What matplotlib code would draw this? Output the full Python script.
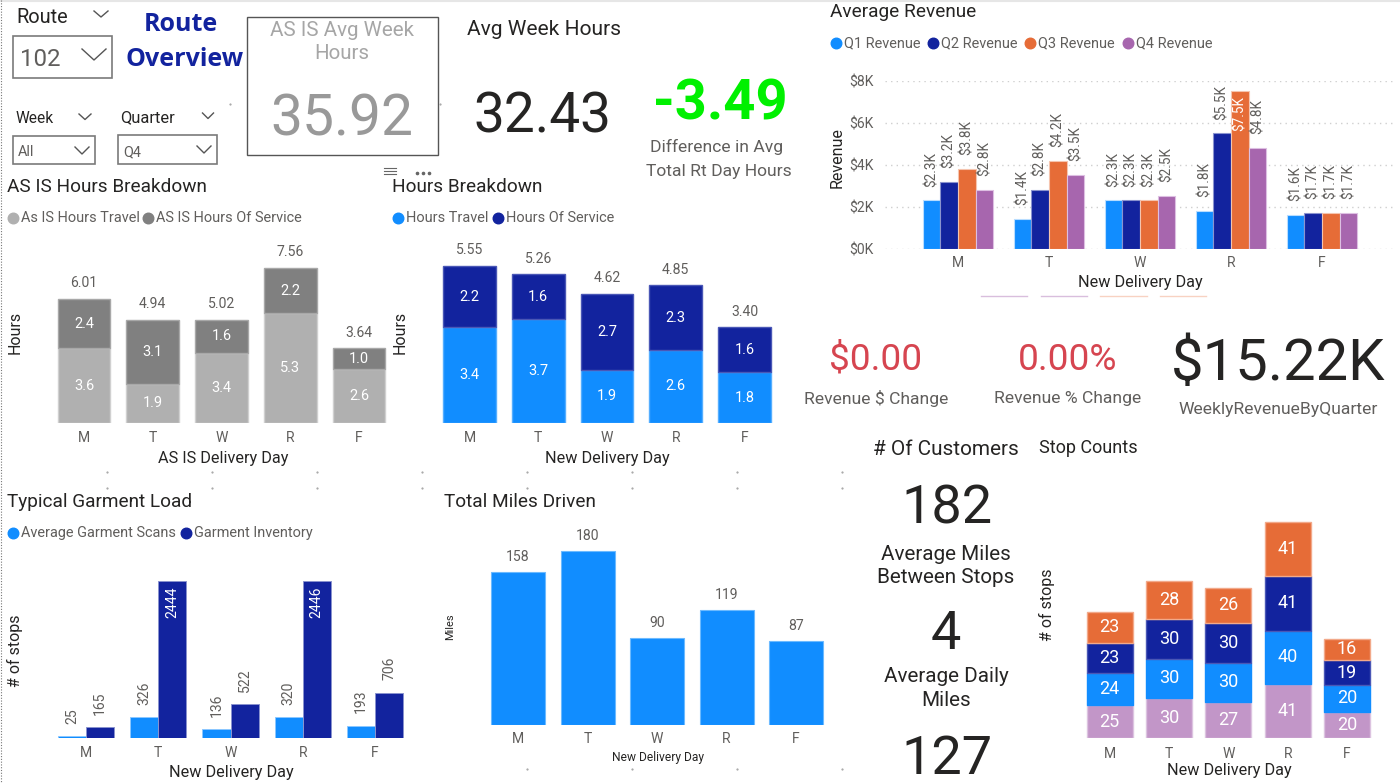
import matplotlib
matplotlib.use("Agg")
import matplotlib.pyplot as plt
import matplotlib.transforms as mtransforms
from matplotlib.lines import Line2D
from matplotlib.patches import Rectangle
import numpy as np

plt.rcParams['font.family'] = ['Roboto', 'DejaVu Sans']

days = ["M", "T", "W", "R", "F"]
asis_travel = [3.6, 1.9, 3.4, 5.3, 2.6]
asis_service = [2.4, 3.1, 1.6, 2.2, 1.0]
asis_total = ["6.01", "4.94", "5.02", "7.56", "3.64"]
new_travel = [3.4, 3.7, 1.9, 2.6, 1.8]
new_service = [2.2, 1.6, 2.7, 2.3, 1.6]
new_total = ["5.55", "5.26", "4.62", "4.85", "3.40"]
garment_scans = [25, 326, 136, 320, 193]
garment_inventory = [165, 2444, 522, 2446, 706]
miles = [158, 180, 90, 119, 87]
q1_rev = [2.3, 1.4, 2.3, 1.8, 1.6]
q2_rev = [3.2, 2.8, 2.3, 5.5, 1.7]
q3_rev = [3.8, 4.2, 2.3, 7.5, 1.7]
q4_rev = [2.8, 3.5, 2.5, 4.8, 1.7]
stops_a = [25, 30, 27, 41, 20]
stops_b = [24, 30, 30, 40, 20]
stops_c = [23, 30, 30, 41, 19]
stops_d = [23, 28, 26, 41, 16]

BLUE, NAVY, ORANGE, PURPLE = "#118DFF", "#12239E", "#E66C37", "#A766AE"
LILAC, LG, DG = "#C296C8", "#B0B0B0", "#808080"
TXT, SUB = "#252423", "#605E5C"

W, H = 1400, 783
fig = plt.figure(figsize=(W / 100, H / 100), dpi=100, facecolor="white")
PX = mtransforms.Affine2D().scale(1 / W, -1 / H).translate(0, 1) + fig.transFigure


def T(x, y, s, px, color=TXT, ha="center", va="center", **kw):
    return fig.text(x, y + px * 0.07, s, transform=PX, fontsize=px * 0.72, color=color, ha=ha, va=va, **kw)


def make_ax(left, right, baseline, top, c0, pitch, ymax, xlabel, ylabel, xlab_xy, ylab_xy,
            xpx=16.3, ylpx=16, tick_px=14, tick_pad=6):
    ax = fig.add_axes([left / W, 1 - baseline / H, (right - left) / W, (baseline - top) / H])
    ax.set_xlim((left - c0) / pitch, (right - c0) / pitch)
    ax.set_ylim(0, ymax)
    ax.patch.set_alpha(0)
    for s in ax.spines.values():
        s.set_visible(False)
    ax.set_xticks(range(5))
    ax.set_xticklabels(days, fontsize=tick_px * 0.72, color=SUB)
    ax.tick_params(axis="x", length=0, pad=tick_pad)
    ax.set_yticks([])
    ax.set_xlabel(xlabel, fontsize=xpx * 0.72, color=TXT, va="center")
    ax.xaxis.set_label_coords(xlab_xy[0], xlab_xy[1], transform=PX)
    ax.set_ylabel(ylabel, fontsize=ylpx * 0.72, color=TXT, va="center")
    ax.yaxis.set_label_coords(ylab_xy[0], ylab_xy[1], transform=PX)
    return ax


def stacked(ax, series, colors, edges, labels, totals=None, width=0.77, lab_px=14.5):
    x = np.arange(5)
    bottom = np.zeros(5)
    for vals, col, ec in zip(series, colors, edges):
        v = np.array(vals, float)
        ax.bar(x, v, width, bottom=bottom, color=col, edgecolor=ec, linewidth=1)
        for xi, b, h in zip(x, bottom, v):
            ax.text(xi, b + h / 2, labels(h), ha="center", va="center", color="white",
                    fontsize=lab_px * 0.72)
        bottom += v
    if totals:
        for xi, b, t in zip(x, bottom, totals):
            ax.annotate(t, (xi, b), xytext=(0, 6), textcoords="offset points", ha="center",
                        va="bottom", fontsize=14 * 0.72, color=SUB)


def legend(items, y, px=14.5):
    for x, col, s in items:
        fig.add_artist(Line2D([x], [y], transform=PX, marker="o", ms=7.6, color=col, lw=0))
        T(x + 8, y - 1, s, px, SUB, ha="left")


# --- header / slicers
T(16, 16, "Route", 20, ha="left")
T(16, 117, "Week", 15.5, ha="left")
T(120, 116.5, "Quarter", 16.5, ha="left")
T(181, 23, "Route", 25, NAVY, fontweight="bold", family=["Open Sans", "DejaVu Sans"])
T(185, 58, "Overview", 25, NAVY, fontweight="bold", family=["Open Sans", "DejaVu Sans"])


def box(x0, y0, x1, y1, ec="#7A7A7A", lw=1.2):
    fig.add_artist(Rectangle((x0, y0), x1 - x0, y1 - y0, transform=PX, fill=False, ec=ec, lw=lw))


def chev(cx, cy, hw, hh, col="#555555", lw=1.0):
    fig.add_artist(Line2D([cx - hw, cx, cx + hw], [cy, cy + hh, cy], transform=PX, color=col, lw=lw))


box(13, 36, 112, 78)
box(13, 136, 95, 164)
box(118, 135, 217, 164)
T(20, 58, "102", 24, SUB, ha="left")
T(18, 151, "All", 14.5, SUB, ha="left")
T(123, 151, "Q4", 14.5, SUB, ha="left")
chev(94, 49, 12, 11)
chev(101, 11, 7, 6)
chev(82, 147, 7, 7)
chev(85, 114, 6, 5.5)
chev(204, 146, 7, 7)
chev(208, 113, 5.5, 5.5)

box(247, 17, 438, 155, ec="#555555", lw=1.0)
T(342, 29, "AS IS Avg Week", 20.5, "#A6A6A6")
T(342, 52, "Hours", 20.5, "#A6A6A6")
T(342, 116.5, "35.92", 57, "#999999")
T(467, 28.5, "Avg Week Hours", 21, ha="left")
T(543, 113.5, "32.43", 55)
T(720, 100.5, "-3.49", 56, "#00F000", fontweight="bold")
T(717, 146, "Difference in Avg", 17.5, SUB)
T(719, 170, "Total Rt Day Hours", 17.5, SUB)
for y in (167.5, 170.5, 174):
    fig.add_artist(Line2D([384, 396], [y, y], transform=PX, color="#666666", lw=0.8))
fig.add_artist(Line2D([417, 423, 429], [173, 173, 173], transform=PX, color="#666666", lw=0,
                      marker="o", ms=1.6))

# --- AS IS hours
T(7, 186, "AS IS Hours Breakdown", 19, ha="left")
legend([(13, LG, "As IS Hours Travel"), (148, DG, "AS IS Hours Of Service")], 218)
ax = make_ax(49.6, 393.4, 423, 257.4, 84, 68.75, 8, "AS IS Delivery Day", "Hours", (223, 458), (15, 332))
stacked(ax, [asis_travel, asis_service], [LG, DG], ["#D0D0D0", "#A8A8A8"], lambda v: f"{v:.1f}", asis_total)

# --- New hours
T(392, 186, "Hours Breakdown", 19, ha="left")
legend([(398, BLUE, "Hours Travel"), (498, NAVY, "Hours Of Service")], 218)
ax = make_ax(435, 779, 423, 254.4, 469.5, 68.75, 6, "New Delivery Day", "Hours", (607, 458), (400, 332))
stacked(ax, [new_travel, new_service], [BLUE, NAVY], ["#55AEFF", "#4A57B6"], lambda v: f"{v:.1f}", new_total)

# --- Garment
T(7, 501, "Typical Garment Load", 19, ha="left")
legend([(13, BLUE, "Average Garment Scans"), (186, NAVY, "Garment Inventory")], 533)
ax = make_ax(50, 411, 738, 568, 86, 72.25, 170 / 0.0642, "New Delivery Day", "# of stops", (231, 772), (15, 651),
             tick_pad=6)
x = np.arange(5)
bw = 0.388
ax.bar(x - bw / 2, garment_scans, bw, color=BLUE, edgecolor="#8CC8FF", linewidth=0.7)
ax.bar(x + bw / 2, garment_inventory, bw, color=NAVY, edgecolor="#8A93CF", linewidth=0.7)
for xi, a, b in zip(x, garment_scans, garment_inventory):
    ax.annotate(str(a), (xi - bw / 2, a), xytext=(0, 9), textcoords="offset points", ha="center", va="bottom",
                rotation=90, fontsize=14 * 0.72, color=SUB)
    if b > 2000:
        ax.annotate(str(b), (xi + bw / 2, b), xytext=(0, -4), textcoords="offset points", ha="center", va="top",
                    rotation=90, fontsize=14 * 0.72, color="white")
    else:
        ax.annotate(str(b), (xi + bw / 2, b), xytext=(0, 9), textcoords="offset points", ha="center", va="bottom",
                    rotation=90, fontsize=14 * 0.72, color=SUB)

# --- Miles
T(444, 501, "Total Miles Driven", 19, ha="left")
ax = make_ax(483.2, 830.8, 725, 525, 518, 69.5, 200 / 0.967, "New Delivery Day", "Miles", (658, 757), (450, 627),
             xpx=12, ylpx=11, tick_pad=5)
ax.bar(x, miles, 54 / 69.5, color=BLUE, edgecolor="#6CBAFF", linewidth=0.8)
for xi, m in zip(x, miles):
    ax.annotate(str(m), (xi, m), xytext=(0, 6), textcoords="offset points", ha="center", va="bottom",
                fontsize=14 * 0.72, color=SUB)

# --- Revenue
T(830, 11, "Average Revenue", 19, ha="left")
legend([(836, BLUE, "Q1 Revenue"), (933, NAVY, "Q2 Revenue"), (1030, ORANGE, "Q3 Revenue"),
        (1128, PURPLE, "Q4 Revenue")], 43)
ax = make_ax(885, 1395, 248.7, 81, 958, 91, 8, "New Delivery Day", "Revenue", (1140, 283), (837, 158),
             tick_pad=5)
ax.set_yticks([0, 2, 4, 6, 8])
ax.set_yticklabels(["$0K", "$2K", "$4K", "$6K", "$8K"], fontsize=14 * 0.72, color=SUB)
ax.tick_params(axis="y", length=0, pad=8)
ax.grid(axis="y", color="#CFCFCF", lw=1, ls=(0, (1, 3)))
ax.set_axisbelow(True)
bw = 0.1933
for k, (vals, col, ec) in enumerate(zip([q1_rev, q2_rev, q3_rev, q4_rev], [BLUE, NAVY, ORANGE, PURPLE],
                                        ["#B8DDFF", "#8A93CF", "#F5C4AE", "#DDBFE2"])):
    off = (k - 1.5) * bw
    ax.bar(x + off, vals, bw, color=col, edgecolor=ec, linewidth=0.8)
    for xi, v in zip(x, vals):
        if v >= 7:
            ax.annotate(f"${v:.1f}K", (xi + off, v), xytext=(0, -3), textcoords="offset points", ha="center",
                        va="top", rotation=90, fontsize=13.5 * 0.72, color="white")
        else:
            ax.annotate(f"${v:.1f}K", (xi + off, v), xytext=(0, 10), textcoords="offset points", ha="center",
                        va="bottom", rotation=90, fontsize=13.5 * 0.72, color=SUB)
for x0, x1, c in [(981, 1027, "#D9BEDD"), (1041, 1087, "#D9BEDD"), (1100, 1147, "#F8D2C2"), (1160, 1206, "#F8D2C2")]:
    fig.add_artist(Line2D([x0, x1], [296, 296], transform=PX, color=c, lw=1))

# --- KPI row
T(876, 357, "$0.00", 37, "#D64550")
T(876, 397, "Revenue $ Change", 17.5, SUB)
T(1068, 357, "0.00%", 37, "#D64550")
T(1068, 397, "Revenue % Change", 17.5, SUB)
T(1278, 360, "$15.22K", 58)
T(1278, 408, "WeeklyRevenueByQuarter", 17.5, SUB)

# --- Customers column
T(946, 448, "# Of Customers", 20.8)
T(1039, 447, "Stop Counts", 18, ha="left")
T(947, 505, "182", 54)
T(946, 553, "Average Miles", 20.7)
T(946, 576, "Between Stops", 20.7)
T(946, 631, "4", 54)
T(946, 675, "Average Daily", 20.7)
T(946, 699, "Miles", 20.7)
T(947, 756, "127", 54)

# --- Stops
ax = make_ax(1080, 1377, 738.3, 500, 1109.5, 59.4, 238.3 / 1.329, "New Delivery Day", "# of stops",
             (1229, 771), (1047, 605), tick_pad=6)
stacked(ax, [stops_a, stops_b, stops_c, stops_d], [LILAC, BLUE, NAVY, ORANGE],
        ["#DCC3E0", "#118DFF", "#4A57B6", "#F2A98A"], lambda v: f"{v:.0f}", width=46 / 59.4, lab_px=18)

# --- page frame and faint layout specks
fig.add_artist(Line2D([0, W], [0.5, 0.5], transform=PX, color="#E6E6E6", lw=1.5))
fig.add_artist(Line2D([0.8, 0.8], [0, 783], transform=PX, color="#777777", lw=0.8, ls=(0, (1, 1.5))))
for yy, xs in [(472, (107, 212, 317, 422, 527, 632, 737, 842)), (488, (107, 212, 317, 422, 527, 632, 737, 842)),
               (769, (527, 632, 737, 842)), (104, (230, 440))]:
    fig.add_artist(Line2D(xs, [yy] * len(xs), transform=PX, color="#AAAAAA", lw=0, marker="s", ms=0.6))

fig.savefig("out.png", dpi=100, facecolor="white")
